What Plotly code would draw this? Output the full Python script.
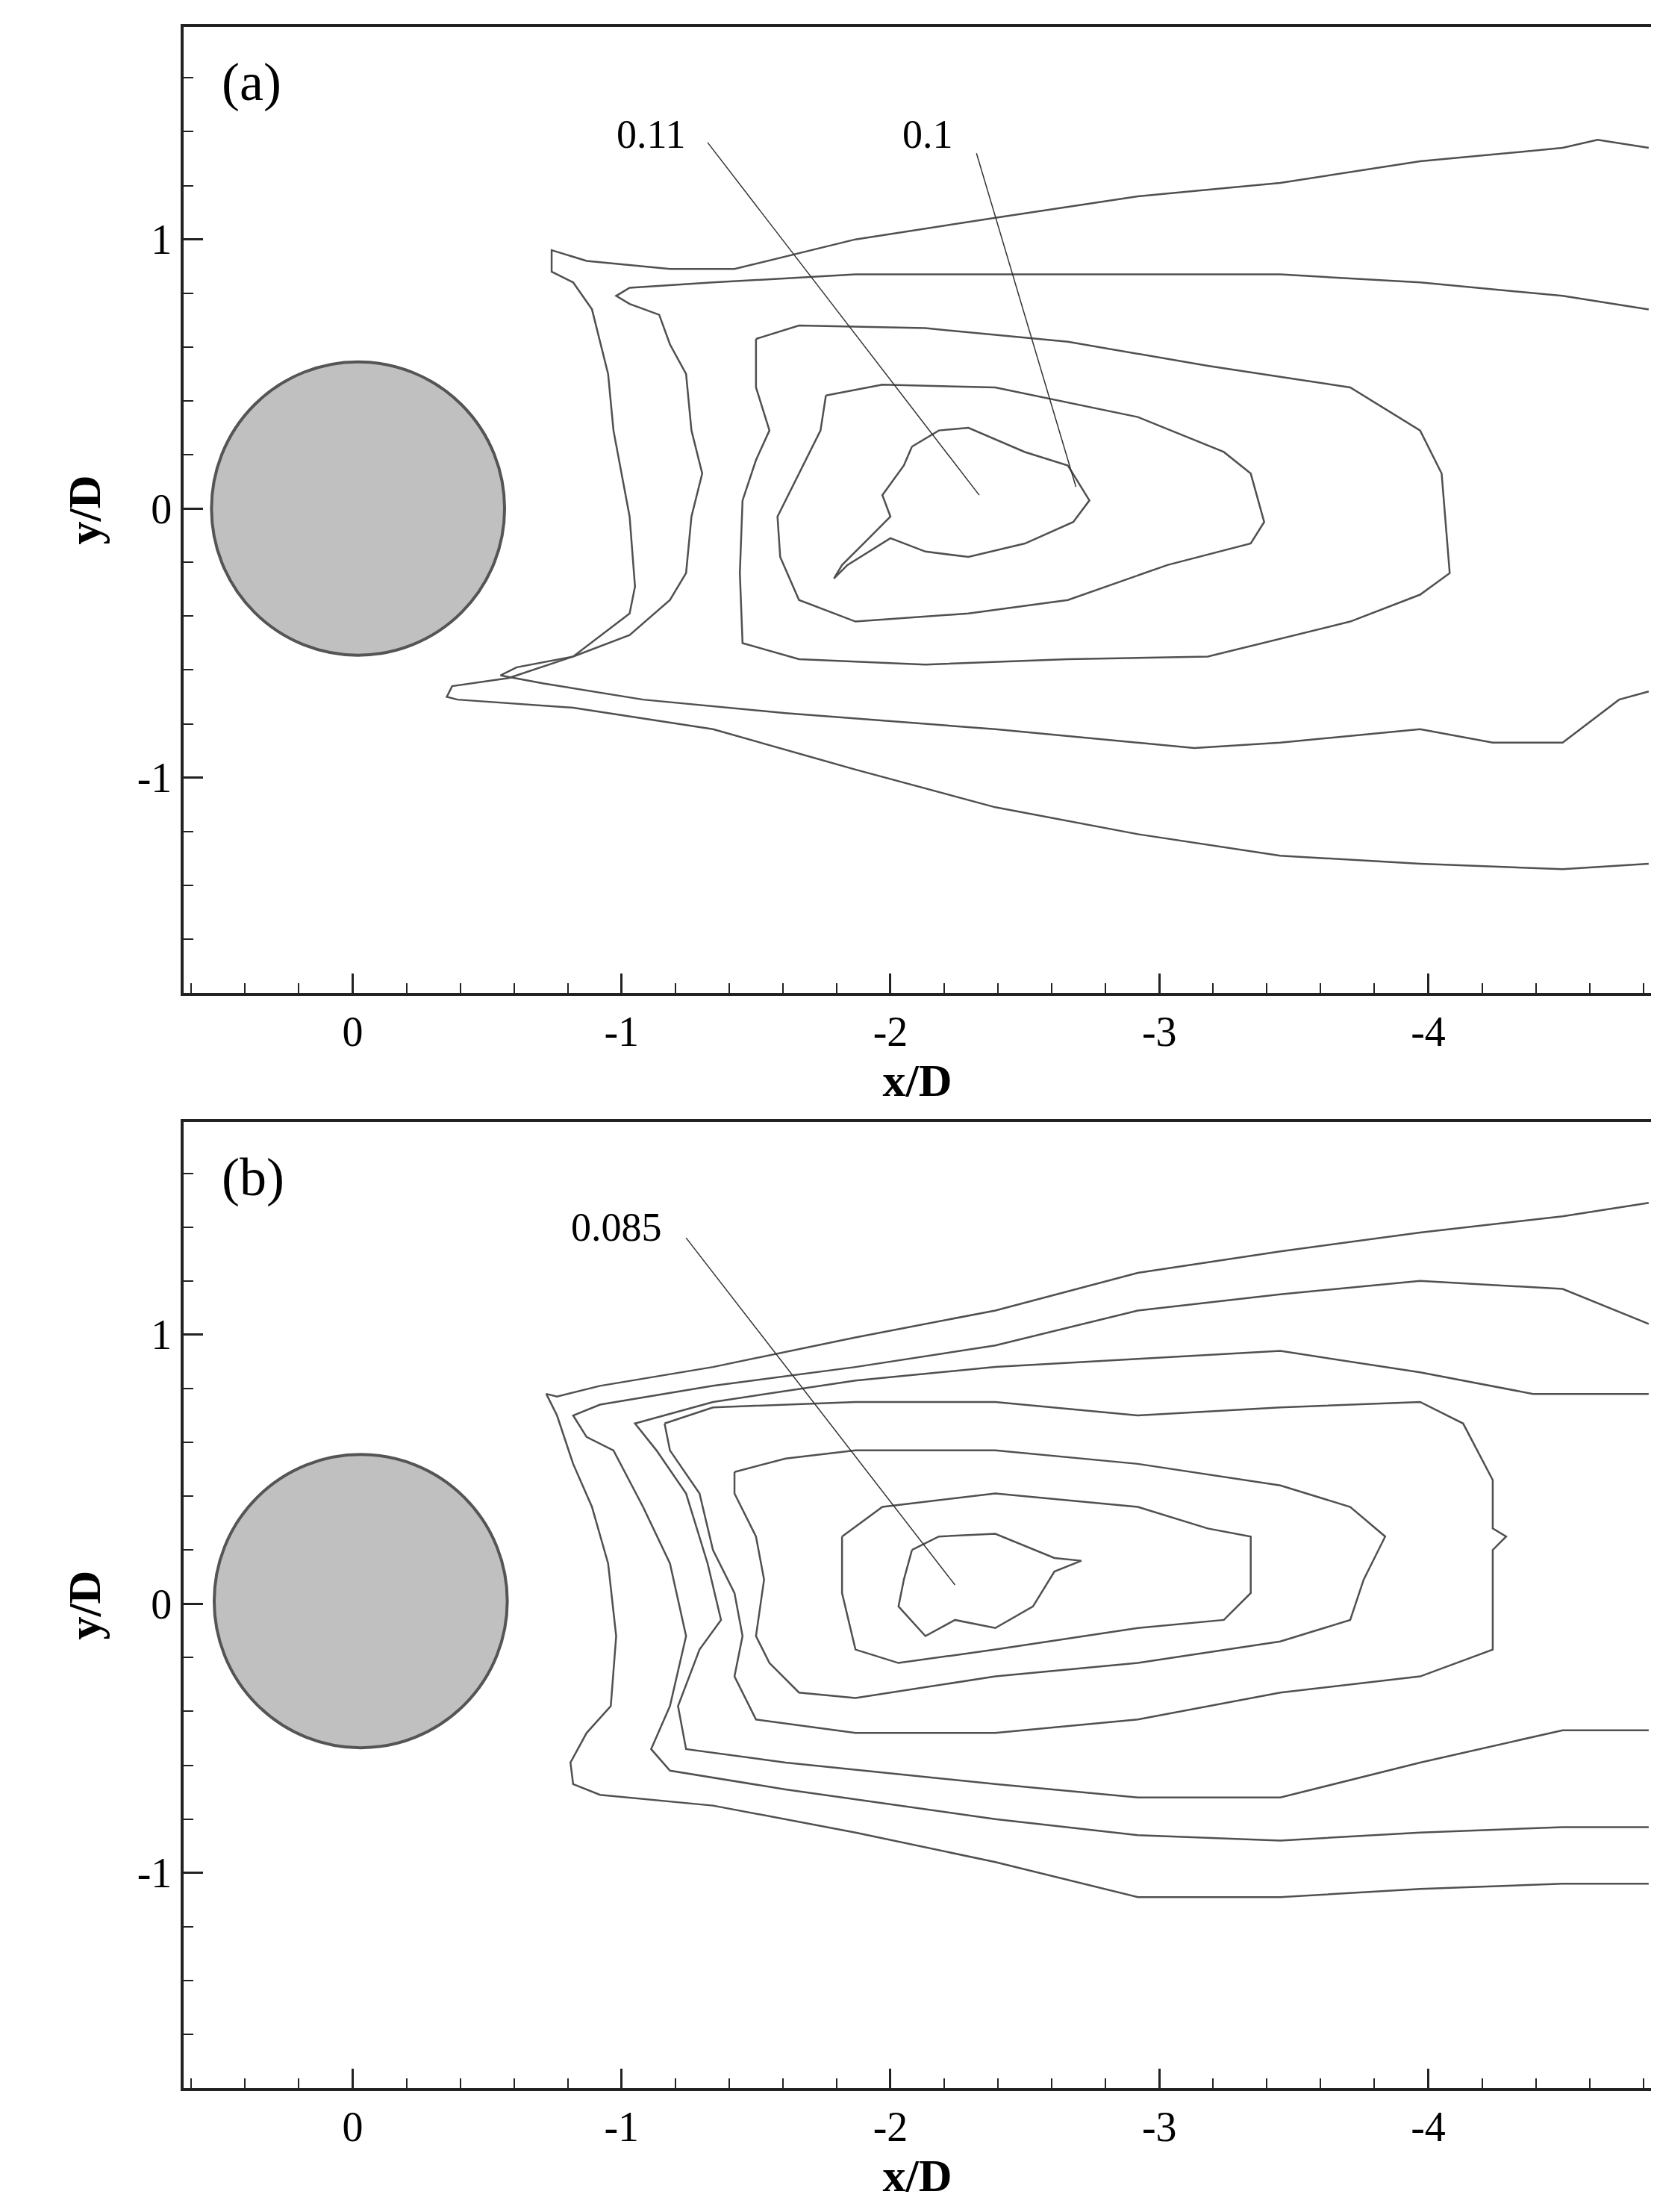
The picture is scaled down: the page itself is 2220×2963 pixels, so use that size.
import plotly.graph_objects as go

# ---------- panel (a) contours (x/D, y/D) ----------
a1_x = [-4.82,-4.63,-4.50,-3.97,-3.45,-2.92,-2.39,-1.87,-1.42,-1.18,-0.87,-0.74,-0.74,-0.82,-0.89,-0.95,-0.97,-1.03,-1.05,-1.03,-0.82,-0.58,-0.37,-0.35,-0.39,-0.82,-1.34,-1.87,-2.39,-2.92,-3.45,-3.97,-4.50,-4.82]
a1_y = [1.34,1.37,1.34,1.29,1.21,1.16,1.08,1.00,0.89,0.89,0.92,0.96,0.88,0.84,0.74,0.50,0.29,-0.03,-0.29,-0.39,-0.55,-0.63,-0.66,-0.70,-0.71,-0.74,-0.82,-0.97,-1.11,-1.21,-1.29,-1.32,-1.34,-1.32]
a2_x = [-4.82,-4.50,-3.97,-3.45,-2.92,-2.39,-1.87,-1.34,-1.03,-0.98,-1.03,-1.14,-1.18,-1.24,-1.26,-1.30,-1.26,-1.24,-1.18,-1.03,-0.82,-0.61,-0.55,-0.71,-1.08,-1.61,-2.39,-3.13,-3.45,-3.97,-4.24,-4.50,-4.71,-4.82]
a2_y = [0.74,0.79,0.84,0.87,0.87,0.87,0.87,0.84,0.82,0.79,0.76,0.72,0.61,0.50,0.29,0.13,-0.03,-0.24,-0.34,-0.47,-0.55,-0.59,-0.62,-0.65,-0.71,-0.76,-0.82,-0.89,-0.87,-0.82,-0.87,-0.87,-0.71,-0.68]
a3_x = [-1.50,-1.66,-2.13,-2.66,-3.18,-3.71,-3.97,-4.05,-4.08,-3.97,-3.71,-3.18,-2.66,-2.13,-1.66,-1.45,-1.44,-1.45,-1.50,-1.55,-1.50,-1.50]
a3_y = [0.63,0.68,0.67,0.62,0.53,0.45,0.29,0.13,-0.24,-0.32,-0.42,-0.55,-0.56,-0.58,-0.56,-0.50,-0.24,0.03,0.18,0.29,0.45,0.63]
a4_x = [-1.76,-1.97,-2.39,-2.92,-3.24,-3.34,-3.39,-3.34,-3.03,-2.66,-2.29,-1.87,-1.66,-1.59,-1.58,-1.66,-1.74,-1.76]
a4_y = [0.42,0.46,0.45,0.34,0.21,0.13,-0.05,-0.13,-0.21,-0.34,-0.39,-0.42,-0.34,-0.18,-0.03,0.13,0.29,0.42]
a5_x = [-2.08,-2.18,-2.29,-2.50,-2.66,-2.74,-2.68,-2.50,-2.29,-2.13,-2.00,-1.84,-1.79,-1.82,-1.92,-2.00,-1.97,-2.05,-2.08]
a5_y = [0.23,0.29,0.30,0.21,0.16,0.03,-0.05,-0.13,-0.18,-0.16,-0.11,-0.21,-0.26,-0.21,-0.11,-0.03,0.05,0.16,0.23]

# ---------- panel (b) contours ----------
b1_x = [-4.82,-4.50,-3.97,-3.45,-2.92,-2.39,-1.87,-1.34,-0.92,-0.76,-0.72,-0.76,-0.82,-0.89,-0.95,-0.98,-0.96,-0.87,-0.81,-0.82,-0.92,-1.34,-1.87,-2.39,-2.92,-3.45,-3.97,-4.50,-4.82]
b1_y = [1.49,1.44,1.38,1.31,1.23,1.09,0.99,0.88,0.81,0.77,0.78,0.70,0.52,0.36,0.15,-0.12,-0.38,-0.48,-0.59,-0.67,-0.71,-0.75,-0.85,-0.96,-1.09,-1.09,-1.06,-1.04,-1.04]
b2_x = [-4.82,-4.50,-3.97,-3.45,-2.92,-2.39,-1.87,-1.34,-0.92,-0.82,-0.87,-0.97,-1.08,-1.18,-1.24,-1.18,-1.11,-1.18,-1.61,-2.39,-2.92,-3.45,-3.97,-4.50,-4.82]
b2_y = [1.04,1.17,1.20,1.15,1.09,0.96,0.88,0.81,0.74,0.70,0.62,0.57,0.36,0.15,-0.12,-0.38,-0.54,-0.62,-0.69,-0.80,-0.86,-0.88,-0.85,-0.83,-0.83]
b3_x = [-4.82,-4.39,-3.97,-3.45,-2.92,-2.39,-1.87,-1.34,-1.05,-1.13,-1.24,-1.32,-1.37,-1.29,-1.21,-1.24,-1.61,-2.39,-2.92,-3.45,-3.97,-4.50,-4.82]
b3_y = [0.78,0.78,0.86,0.94,0.91,0.88,0.83,0.75,0.67,0.57,0.41,0.15,-0.06,-0.17,-0.38,-0.54,-0.59,-0.67,-0.72,-0.72,-0.59,-0.47,-0.47]
b4_x = [-1.16,-1.34,-1.87,-2.39,-2.92,-3.45,-3.97,-4.13,-4.24,-4.24,-4.29,-4.24,-4.24,-3.97,-3.45,-2.92,-2.39,-1.87,-1.50,-1.42,-1.45,-1.42,-1.34,-1.29,-1.18,-1.16]
b4_y = [0.67,0.73,0.75,0.75,0.70,0.73,0.75,0.67,0.46,0.28,0.25,0.20,-0.17,-0.27,-0.33,-0.43,-0.48,-0.48,-0.43,-0.27,-0.12,0.04,0.20,0.41,0.57,0.67]
b5_x = [-1.42,-1.61,-1.87,-2.39,-2.92,-3.45,-3.71,-3.84,-3.76,-3.71,-3.45,-2.92,-2.39,-1.87,-1.66,-1.55,-1.50,-1.53,-1.50,-1.42,-1.42]
b5_y = [0.49,0.54,0.57,0.57,0.52,0.44,0.36,0.25,0.09,-0.06,-0.14,-0.22,-0.27,-0.35,-0.33,-0.22,-0.12,0.09,0.25,0.41,0.49]
b6_x = [-1.82,-1.97,-2.39,-2.92,-3.18,-3.34,-3.34,-3.24,-2.92,-2.39,-2.03,-1.87,-1.82,-1.82]
b6_y = [0.25,0.36,0.41,0.36,0.28,0.25,0.04,-0.06,-0.09,-0.17,-0.22,-0.17,0.04,0.25]
b7_x = [-2.08,-2.18,-2.39,-2.61,-2.71,-2.61,-2.53,-2.39,-2.24,-2.13,-2.03,-2.05,-2.08]
b7_y = [0.20,0.25,0.26,0.17,0.16,0.12,-0.01,-0.09,-0.06,-0.12,-0.01,0.09,0.20]

# labels: text, label position, leader start, leader end
a_labels = [("0.11", -1.11, 1.39, -1.32, 1.36, -2.33, 0.05),
            ("0.1", -2.14, 1.39, -2.32, 1.32, -2.69, 0.08)]
b_labels = [("0.085", -0.98, 1.40, -1.24, 1.36, -2.24, 0.07)]

circle_a = (-0.02, 0.0, 0.545)
circle_b = (-0.03, 0.01, 0.545)

x_tickvals = [0, -1, -2, -3, -4]
x_ticktext = ["0", "-1", "-2", "-3", "-4"]
y_tickvals = [-1, 0, 1]
y_ticktext = ["-1", "0", "1"]

fig = go.Figure()
LC = "#505050"
for xs, ys in [(a1_x,a1_y),(a2_x,a2_y),(a3_x,a3_y),(a4_x,a4_y),(a5_x,a5_y)]:
    fig.add_trace(go.Scatter(x=xs, y=ys, mode="lines", line=dict(color=LC, width=2.5),
                             xaxis="x", yaxis="y", showlegend=False, hoverinfo="skip"))
for xs, ys in [(b1_x,b1_y),(b2_x,b2_y),(b3_x,b3_y),(b4_x,b4_y),(b5_x,b5_y),(b6_x,b6_y),(b7_x,b7_y)]:
    fig.add_trace(go.Scatter(x=xs, y=ys, mode="lines", line=dict(color=LC, width=2.5),
                             xaxis="x2", yaxis="y2", showlegend=False, hoverinfo="skip"))

font = "Liberation Serif, Times New Roman, serif"
for labs, xr, yr in [(a_labels, "x", "y"), (b_labels, "x2", "y2")]:
    for t, lx, ly, x0, y0, x1, y1 in labs:
        fig.add_trace(go.Scatter(x=[x0, x1], y=[y0, y1], mode="lines",
                                 line=dict(color="#333", width=1.5), xaxis=xr, yaxis=yr,
                                 showlegend=False, hoverinfo="skip"))
        fig.add_annotation(x=lx, y=ly, xref=xr, yref=yr, text=t, showarrow=False,
                           font=dict(family=font, size=54, color="black"))

for (cx, cy, r), xr, yr in [(circle_a, "x", "y"), (circle_b, "x2", "y2")]:
    fig.add_shape(type="circle", xref=xr, yref=yr, x0=cx - r, x1=cx + r, y0=cy - r, y1=cy + r,
                  fillcolor="#c0c0c0", line=dict(color="#555", width=4), layer="above")

fig.add_annotation(x=0.025, y=0.975, xref="x domain", yref="y domain", text="(a)", showarrow=False,
                   xanchor="left", yanchor="top", font=dict(family=font, size=72, color="black"))
fig.add_annotation(x=0.025, y=0.975, xref="x2 domain", yref="y2 domain", text="(b)", showarrow=False,
                   xanchor="left", yanchor="top", font=dict(family=font, size=72, color="black"))

def xax(dom_anchor):
    return dict(range=[0.63, -4.83], domain=[0.107, 0.993], anchor=dom_anchor, showgrid=False,
                zeroline=False, showline=True, mirror=True, linecolor="#222", linewidth=4,
                ticks="inside", ticklen=26, tickwidth=2.5, tickcolor="#222",
                tickvals=x_tickvals, ticktext=x_ticktext,
                minor=dict(ticks="inside", ticklen=13, tickwidth=2, dtick=0.2, tick0=0, tickcolor="#222"),
                tickfont=dict(family=font, size=56, color="black"),
                title=dict(text="<b>x/D</b>", font=dict(family=font, size=62, color="black"), standoff=0))

def yax(dom, anc):
    return dict(range=[-1.8, 1.79], domain=dom, anchor=anc, showgrid=False, zeroline=False,
                showline=True, mirror=True, linecolor="#222", linewidth=4,
                ticks="inside", ticklen=26, tickwidth=2.5, tickcolor="#222",
                tickvals=y_tickvals, ticktext=y_ticktext,
                minor=dict(ticks="inside", ticklen=13, tickwidth=2, dtick=0.2, tick0=0, tickcolor="#222"),
                tickfont=dict(family=font, size=56, color="black"),
                title=dict(text="<b>y/D</b>", font=dict(family=font, size=62, color="black"), standoff=30))

fig.update_layout(width=2220, height=2963, margin=dict(l=0, r=0, t=0, b=0),
                  plot_bgcolor="white", paper_bgcolor="white",
                  xaxis=xax("y"), yaxis=yax([0.5538, 0.9906], "x"),
                  xaxis2=xax("y2"), yaxis2=yax([0.0587, 0.4954], "x2"))
fig.write_html("out.html")
